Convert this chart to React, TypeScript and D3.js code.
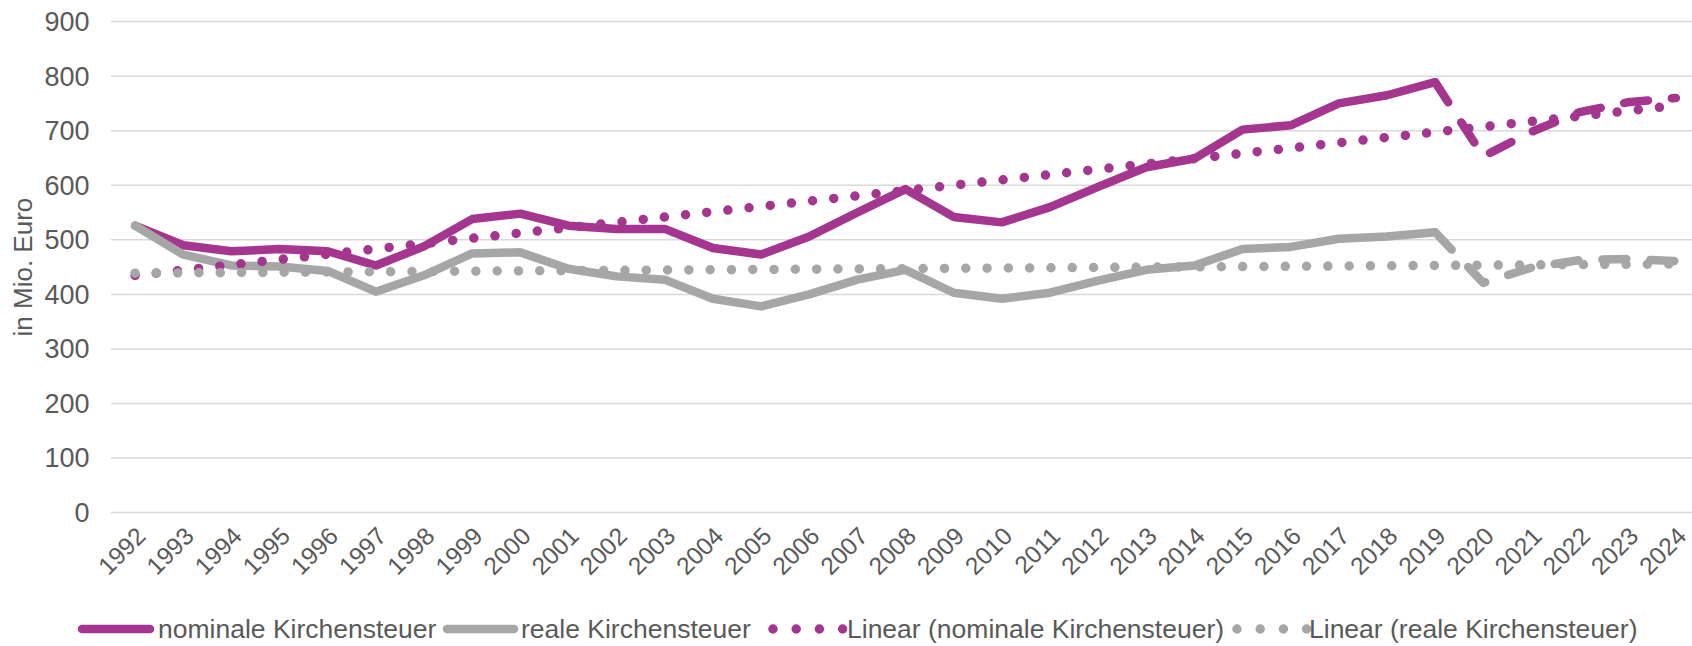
import * as d3 from 'd3';

// Kirchensteuer in Mio. Euro, 1992–2024
const YEARS = [
  '1992', '1993', '1994', '1995', '1996', '1997', '1998', '1999', '2000', '2001', '2002',
  '2003', '2004', '2005', '2006', '2007', '2008', '2009', '2010', '2011', '2012', '2013',
  '2014', '2015', '2016', '2017', '2018', '2019', '2020', '2021', '2022', '2023', '2024',
];
const NOMINAL = [
  526, 490, 479, 483, 479, 453, 488, 538, 548, 526, 520,
  520, 485, 473, 506, 550, 593, 542, 532, 560, 597, 633,
  649, 702, 710, 750, 765, 789, 653, 698, 734, 752, 760,
];
const REAL = [
  526, 473, 453, 451, 443, 405, 435, 475, 477, 447, 433,
  427, 392, 378, 400, 427, 445, 403, 392, 403, 425, 445,
  453, 483, 487, 502, 506, 514, 421, 449, 463, 465, 461,
];
const DASHED_FROM = '2019';
const Y_TICKS = [0, 100, 200, 300, 400, 500, 600, 700, 800, 900];

const PURPLE = '#a4368f';
const GREY = '#a6a6a6';
const GRID = '#d9d9d9';
const TEXT = '#595959';
const FONT = '"Liberation Sans", Arial, Helvetica, sans-serif';

const W = 1692;
const H = 646;
const LEFT = 111;
const BAND = 48.15;
const TOP = 21.6;
const BOTTOM = 512.6;
const LINE_W = 8.5;
const DOT_W = 9.5;

// least-squares trend, same as Excel's linear trendline
function linearFit(values: number[]) {
  const xs = values.map((_, i) => i);
  const mx = d3.mean(xs)!;
  const my = d3.mean(values)!;
  const sxy = d3.sum(xs, (x, i) => (x - mx) * (values[i] - my));
  const sxx = d3.sum(xs, x => (x - mx) * (x - mx));
  const slope = sxy / sxx;
  return (i: number) => my + slope * (i - mx);
}

const LEGEND = [
  { label: 'nominale Kirchensteuer', color: PURPLE, dotted: false, x0: 82, x1: 150, tx: 158 },
  { label: 'reale Kirchensteuer', color: GREY, dotted: false, x0: 447, x1: 514, tx: 521 },
  { label: 'Linear (nominale Kirchensteuer)', color: PURPLE, dotted: true, x0: 773, x1: 843, tx: 847 },
  { label: 'Linear (reale Kirchensteuer)', color: GREY, dotted: true, x0: 1237, x1: 1307, tx: 1309 },
];

export default function App() {
  const x = d3.scaleBand<string>().domain(YEARS).range([LEFT, LEFT + BAND * YEARS.length]);
  const cx = (i: number) => x(YEARS[i])! + x.bandwidth() / 2;
  const y = d3.scaleLinear().domain([0, 900]).range([BOTTOM, TOP]);

  const line = d3.line<number>().x((_, i) => cx(i)).y(d => y(d));
  const cut = YEARS.indexOf(DASHED_FROM);

  const seriesPaths = (values: number[], color: string, key: string) => {
    const solid = line(values.slice(0, cut + 1))!;
    const dashed = d3.line<number>().x((_, i) => cx(i + cut)).y(d => y(d))(values.slice(cut))!;
    return (
      <g key={key} fill="none" stroke={color} strokeWidth={LINE_W} strokeLinecap="round" strokeLinejoin="round">
        <path d={solid} />
        <path d={dashed} strokeDasharray="24 24" />
      </g>
    );
  };

  const trendPath = (values: number[], color: string, key: string) => {
    const f = linearFit(values);
    const d = `M${cx(0)},${y(f(0))}L${cx(values.length - 1)},${y(f(values.length - 1))}`;
    return (
      <path key={key} d={d} fill="none" stroke={color} strokeWidth={DOT_W}
        strokeLinecap="round" strokeDasharray="0 21.3" />
    );
  };

  const axisY = BOTTOM;

  return (
    <svg width={W} height={H} style={{ position: 'fixed', left: 0, top: 0, background: '#fff' }}
      fontFamily={FONT}>
      {/* gridlines + y labels */}
      {Y_TICKS.map(t => (
        <g key={t}>
          <line x1={LEFT} x2={W} y1={y(t)} y2={y(t)} stroke={GRID} strokeWidth={1.5} />
          <text x={89.5} y={y(t)} dy="0.35em" textAnchor="end" fontSize={27} fill={TEXT}>{t}</text>
        </g>
      ))}

      <text transform={`translate(23,${(TOP + BOTTOM) / 2}) rotate(-90)`} textAnchor="middle"
        dy="0.35em" fontSize={26} fill={TEXT}>in Mio. Euro</text>

      {/* x labels */}
      {YEARS.map((yr, i) => (
        <text key={yr} transform={`translate(${cx(i) + 6},${axisY + 19}) rotate(-45)`}
          textAnchor="end" dy="0.35em" fontSize={24.5} fill={TEXT}>{yr}</text>
      ))}

      {seriesPaths(NOMINAL, PURPLE, 'nom')}
      {seriesPaths(REAL, GREY, 'real')}
      {trendPath(NOMINAL, PURPLE, 'tnom')}
      {trendPath(REAL, GREY, 'treal')}

      {/* legend */}
      {LEGEND.map(l => (
        <g key={l.label}>
          <line x1={l.x0} x2={l.x1} y1={629} y2={629} stroke={l.color}
            strokeWidth={l.dotted ? DOT_W : LINE_W} strokeLinecap="round"
            strokeDasharray={l.dotted ? '0 23.2' : undefined} />
          <text x={l.tx} y={629} dy="0.35em" fontSize={26.5} fill={TEXT}>{l.label}</text>
        </g>
      ))}
    </svg>
  );
}
